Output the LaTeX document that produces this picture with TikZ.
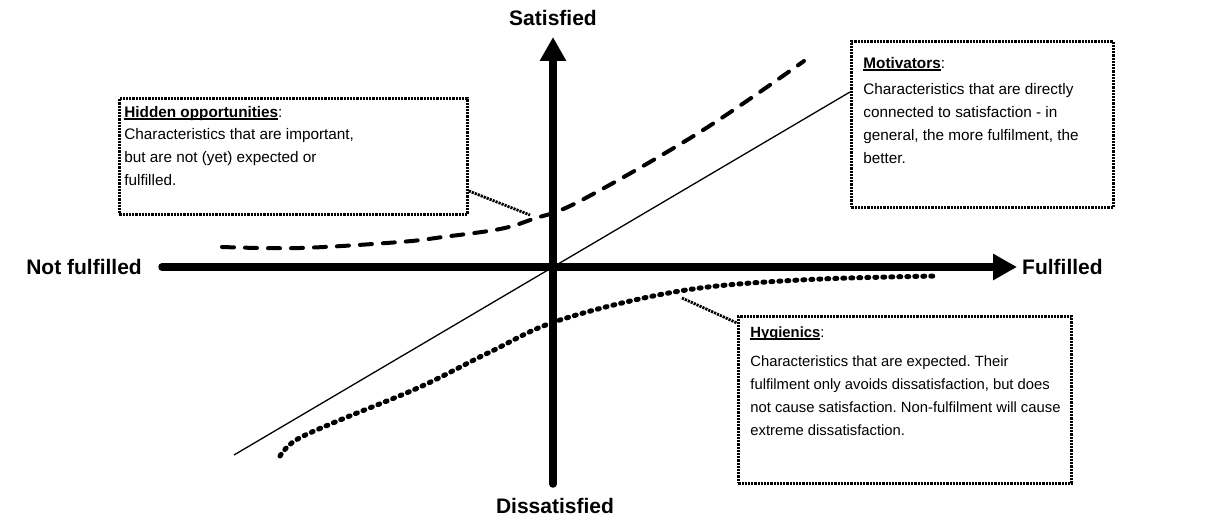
\documentclass[tikz,border=0pt]{standalone}
\usepackage{fontspec}
\setmainfont{Liberation Sans}
\usetikzlibrary{arrows.meta}
\frenchspacing
\newcommand\myul[1]{\setbox0\hbox{#1}\rlap{\rule[-2.2pt]{\wd0}{1.4pt}}\box0}
\newcommand\boxtext[4]{\parbox[t][#2][t]{#1}{\raggedright\frenchspacing\rule{0pt}{#3}#4}}
\begin{document}
\begin{tikzpicture}[x=1pt,y=-1pt,
  axis/.style={line width=7.5pt, line cap=round, -{Triangle[length=24pt,width=25pt]}},
  axislabel/.style={font=\fontsize{21}{25}\selectfont\bfseries, inner sep=0},
  infobox/.style={draw, line width=2.8pt, dash pattern=on 2.2pt off 1pt, inner xsep=12pt, inner ysep=0pt, anchor=north west, align=left, font=\fontsize{15.3}{23}\selectfont},
  linker/.style={line width=2.8pt, dash pattern=on 2.2pt off 1pt},
  opportunity/.style={line width=4pt, line cap=round, dash pattern=on 12pt off 11pt},
  hygiene/.style={line width=5pt, line cap=round, dash pattern=on 2pt off 6pt},
  motline/.style={line width=1.3pt}
]
\useasboundingbox (0,0) rectangle (1221,518);

% text boxes
\node[infobox, inner xsep=5pt] (hid) at (118,97) {\boxtext{338pt}{116pt}{19pt}{\myul{\textbf{Hidden opportunities}}:\\[-1pt]
Characteristics that are important,\\
but are not (yet) expected or\\
fulfilled.}};
\node[infobox] (mot) at (850,40) {\boxtext{238pt}{166pt}{27pt}{\myul{\textbf{Motivators}}:\\[3pt]
Characteristics that are directly\\
connected to satisfaction - in\\
general, the more fulfilment, the\\
better.}};
\node[infobox, inner xsep=0pt, font=\fontsize{14.8}{23}\selectfont] (hyg) at (737,315) {\boxtext{333pt}{167pt}{21pt}{\hspace*{12pt}\myul{\textbf{Hygienics}}:\\[6pt]
\hspace*{12pt}\mbox{Characteristics that are expected. Their}\\
\hspace*{12pt}\mbox{fulfilment only avoids dissatisfaction, but does}\\
\hspace*{12pt}\mbox{not cause satisfaction. Non-fulfilment will cause}\\
\hspace*{12pt}\mbox{extreme dissatisfaction.}}};

% axis labels
\node[axislabel] (sat) at (553,18) {Satisfied};
\node[axislabel] (dis) at (555,506) {Dissatisfied};
\node[axislabel, anchor=east] (nf) at (142,267) {Not fulfilled};
\node[axislabel, anchor=west] (ff) at (1022,267) {Fulfilled};

% motivators line
\coordinate (mA) at (234,455);
\draw[motline] (mA) -- ([yshift=-52pt]mot.north west);

% hidden opportunities curve
\draw[opportunity] plot[smooth, tension=0.6] coordinates {(222,247) (300,248) (400,242) (443,237) (500,229) (533,219) (580,201) (700,132) (804,61)};
\coordinate (oHit) at (530,215);
\draw[linker] ([yshift=-94pt]hid.north east) -- (oHit);

% hygienics curve
\draw[hygiene] plot[smooth, tension=0.6] coordinates {(280,456) (296,440) (340,420) (420,387) (490,352) (560,320) (680,291) (800,280) (938,276)};
\coordinate (hHit) at (682,298);
\draw[linker] (hHit) -- ([yshift=-8pt]hyg.north west);

% axes
\coordinate (hL) at (162,267);
\coordinate (hR) at (1017,267);
\coordinate (vB) at (553,484);
\coordinate (vT) at (553,37);
\draw[axis] (hL) -- (hR);
\draw[axis] (vB) -- (vT);
\end{tikzpicture}
\end{document}
